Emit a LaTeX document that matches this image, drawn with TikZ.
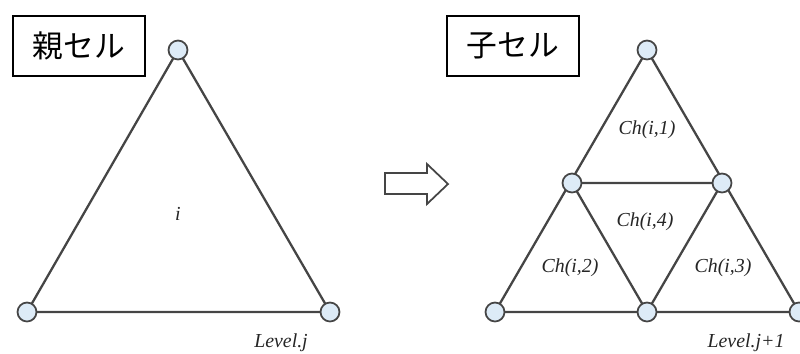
\documentclass[tikz,border=0pt]{standalone}
\usepackage{fontspec}
\setmainfont{Liberation Serif}
\newfontfamily\jpfont{Noto Sans CJK JP}
\usetikzlibrary{positioning}

\definecolor{edgegray}{HTML}{454545}
\definecolor{dotblue}{HTML}{DDEBF7}

\tikzset{
  vert/.style={circle, draw=edgegray, fill=dotblue, line width=1pt, minimum size=10.8pt, inner sep=0pt},
  edge/.style={draw=edgegray, line width=1.3pt},
  title/.style={draw=black, line width=1.1pt, minimum width=74.8pt, minimum height=34pt, font=\jpfont\fontsize{17.5}{20}\selectfont},
  cell/.style={font=\itshape\fontsize{11.3}{13}\selectfont, text=black!85}
}

\begin{document}
\begin{tikzpicture}[x=0.02cm, y=-0.02cm]
        \useasboundingbox (0,0) rectangle (800,353);

        % parent cell
        \node[title] (parent) at (79,46) {親セル};
        \coordinate (pA) at (178,50);
        \coordinate (pB) at (27,312);
        \coordinate (pC) at (330,312);
        \draw[edge] (pA) -- (pB) -- (pC) -- cycle;
        \foreach \v in {pA,pB,pC}
            \node[vert] at (\v) {};
        \node[cell] (lbli) at (178,214) {i};
        \node[cell] (lvlj) at (281,343) {Level.j};

        % arrow
        \draw[line width=1pt, draw=edgegray] (385,173) -- (427,173) -- (427,164) -- (448,184)
            -- (427,204) -- (427,194) -- (385,194) -- cycle;

        % child cells
        \node[title] (child) at (513,46) {子セル};
        \coordinate (cA) at (647,50);
        \coordinate (cB) at (495,312);
        \coordinate (cC) at (799,312);
        \coordinate (cAB) at (572,183);
        \coordinate (cAC) at (722,183);
        \coordinate (cBC) at (647,312);
        \draw[edge] (cA) -- (cB) -- (cC) -- cycle;
        \draw[edge] (cAB) -- (cAC) -- (cBC) -- cycle;
        \foreach \v in {cA,cB,cC,cAB,cAC,cBC}
            \node[vert] at (\v) {};
        \node[cell] (ch1) at (647,130) {Ch(i,1)};
        \node[cell] (ch4) at (645,222) {Ch(i,4)};
        \node[cell] (ch2) at (570,268) {Ch(i,2)};
        \node[cell] (ch3) at (723,268) {Ch(i,3)};
        \node[cell] (lvlj1) at (746,343) {Level.j+1};
    \end{tikzpicture}
\end{document}
